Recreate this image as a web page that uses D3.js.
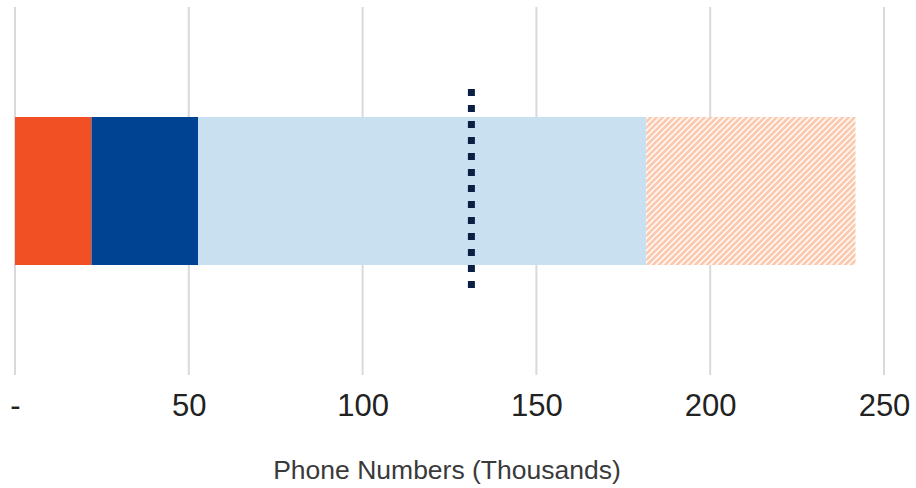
<!DOCTYPE html>
<html>
<head>
<meta charset="utf-8">
<script src="https://cdn.jsdelivr.net/npm/d3@7"></script>
<style>
  html, body { margin: 0; padding: 0; background: #fff; }
  svg { display: block; }
</style>
</head>
<body>
<svg id="chart" width="916" height="488"></svg>
<script>
// Stacked segments of the single bar (thousands of phone numbers)
const segmentNames = ["Segment A", "Segment B", "Segment C", "Projected"];
const segmentValues = [22, 30.7, 128.9, 60.2];
const segmentColors = ["#f05023", "#004393", "#c9e0f1", "hatch"];
// Reference marker (dotted vertical line)
const markerValue = [131.3];
// Axis ticks
const tickValues = [0, 50, 100, 150, 200, 250];
const tickLabels = ["-", "50", "100", "150", "200", "250"];
const axisTitle = "Phone Numbers (Thousands)";

const svg = d3.select("#chart");
const x = d3.scaleLinear().domain([0, 250]).range([15, 884]);

// Diagonal hatch pattern for the projected segment
const defs = svg.append("defs");
const pat = defs.append("pattern")
  .attr("id", "hatch")
  .attr("patternUnits", "userSpaceOnUse")
  .attr("width", 6).attr("height", 6);
pat.append("rect").attr("width", 6).attr("height", 6).attr("fill", "#fff");
pat.append("path")
  .attr("d", "M-1,1 L1,-1 M0,6 L6,0 M5,7 L7,5")
  .attr("stroke", "#fdc9ae")
  .attr("stroke-width", 2.8);

// Gridlines
svg.append("g").selectAll("line")
  .data(tickValues)
  .join("line")
  .attr("x1", d => x(d)).attr("x2", d => x(d))
  .attr("y1", 7).attr("y2", 375)
  .attr("stroke", "#d9d9d9")
  .attr("stroke-width", 2);

// Stacked bar
let acc = 0;
const stacked = segmentValues.map((v, i) => {
  const s = { name: segmentNames[i], x0: acc, x1: acc + v, color: segmentColors[i] };
  acc += v;
  return s;
});
const barTop = 117, barBottom = 265;
svg.append("g").selectAll("rect")
  .data(stacked)
  .join("rect")
  .attr("x", d => x(d.x0))
  .attr("width", d => x(d.x1) - x(d.x0))
  .attr("y", barTop)
  .attr("height", barBottom - barTop)
  .attr("fill", d => d.color === "hatch" ? "url(#hatch)" : d.color);

// Dotted marker line
svg.append("g").selectAll("line")
  .data(markerValue)
  .join("line")
  .attr("x1", d => x(d)).attr("x2", d => x(d))
  .attr("y1", 89).attr("y2", 291)
  .attr("stroke", "#0b1f45")
  .attr("stroke-width", 7)
  .attr("stroke-dasharray", "7,9");

// Axis tick labels
const axis = d3.axisBottom(x)
  .tickValues(tickValues)
  .tickFormat((d, i) => tickLabels[i])
  .tickSize(0)
  .tickPadding(0);
const gAxis = svg.append("g")
  .attr("transform", "translate(0,394)")
  .call(axis);
gAxis.select(".domain").remove();
gAxis.selectAll("text")
  .attr("font-family", "Liberation Sans, Arial, sans-serif")
  .attr("font-size", 31)
  .attr("fill", "#222")
  .attr("dy", "0.71em");

// Axis title
svg.append("text")
  .attr("x", 447)
  .attr("y", 479)
  .attr("text-anchor", "middle")
  .attr("font-family", "Liberation Sans, Arial, sans-serif")
  .attr("font-size", 26.5)
  .attr("fill", "#3a3a3a")
  .text(axisTitle);
</script>
</body>
</html>
